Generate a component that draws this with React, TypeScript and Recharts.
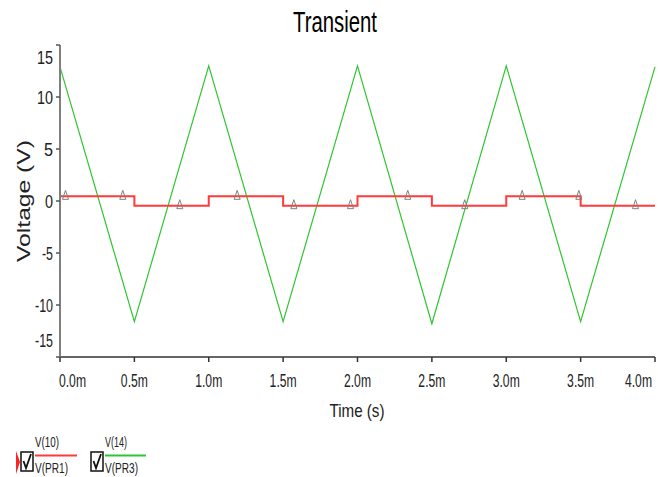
import React from 'react';
import { ComposedChart, Line, Scatter, XAxis, YAxis, Label, Legend } from 'recharts';

const font = '"Liberation Sans", Arial, sans-serif';

const timeTicks = [0, 0.5, 1.0, 1.5, 2.0, 2.5, 3.0, 3.5, 4.0];
const voltTicks = [-15, -10, -5, 0, 5, 10, 15];

// V(14): triangle wave, corner points (ms, V)
const v14Times = [0, 0.5, 1.0, 1.5, 2.0, 2.5, 3.0, 3.5, 4.0];
const v14Values = [12.9, -11.6, 13.0, -11.6, 13.0, -11.8, 13.0, -11.6, 12.9];

// V(10): square wave, each value held until the next time
const v10Times = [0, 0, 0.5, 1.0, 1.5, 2.0, 2.5, 3.0, 3.5, 4.0];
const v10Values = [-0.45, 0.45, -0.45, 0.45, -0.45, 0.45, -0.45, 0.45, -0.45, -0.45];

// trace markers sitting on V(10)
const markerTimes = [0.037, 0.422, 0.805, 1.191, 1.572, 1.953, 2.338, 2.721, 3.107, 3.488, 3.869];
const markerValues = [0.45, 0.45, -0.45, 0.45, -0.45, -0.45, 0.45, -0.45, 0.45, 0.45, -0.45];

const v14Data = v14Times.map((t, i) => ({ t, v: v14Values[i] }));
const v10Data = v10Times.map((t, i) => ({ t, v: v10Values[i] }));
const markerData = markerTimes.map((t, i) => ({ t, v: markerValues[i] }));

const yLabelWidth: Record<string, number> = {
  '15': 16, '10': 16, '5': 9, '0': 8, '-5': 11, '-10': 18, '-15': 18,
};

const XTick = (props: any) => {
  const { x, y, payload } = props;
  const v = payload.value;
  const anchor = v === 0 ? 'start' : v === 4 ? 'end' : 'middle';
  const dx = v === 0 ? -1 : v === 4 ? -3 : 0;
  return (
    <text transform={`translate(${x + dx},${y + 23}) scale(0.675,1)`} textAnchor={anchor}
      fontSize={18} fontFamily={font} fill="#222">
      {v.toFixed(1) + 'm'}
    </text>
  );
};

const YTick = (props: any) => {
  const { x, y, payload } = props;
  const v = payload.value;
  const shift = v === 15 ? 12 : v === -15 ? -17 : 0;
  const s = String(v);
  return (
    <text x={x - 1} y={y + 6.5 + shift} textAnchor="end" fontSize={18} fontFamily={font}
      fill="#222" textLength={yLabelWidth[s]} lengthAdjust="spacingAndGlyphs">
      {s}
    </text>
  );
};

const Marker = (props: any) => {
  const { cx, cy } = props;
  return (
    <polygon points={`${cx},${cy - 6} ${cx - 3},${cy + 3} ${cx + 3},${cy + 3}`}
      fill="none" stroke="#808080" strokeWidth={1} />
  );
};

const Check = ({ x }: { x: number }) => (
  <g>
    <rect x={x} y={452} width={12} height={19} fill="#fff" stroke="#111" strokeWidth={1.5} />
    <polyline points={`${x + 2.5},${461} ${x + 5},${468} ${x + 10},${454}`} fill="none" stroke="#111" strokeWidth={1.8} />
  </g>
);

const renderLegend = () => (
  <svg width={200} height={477} style={{ position: 'absolute', left: 0, top: -430 }}>
    <polygon points="16,451 20,462 16,474" fill="#ff2020" />
    <Check x={21} />
    <text x={35} y={447} fontSize={14} fontFamily={font} fill="#222" textLength={24} lengthAdjust="spacingAndGlyphs">V(10)</text>
    <line x1={35} x2={77} y1={455.5} y2={455.5} stroke="#ff3b3b" strokeWidth={2} />
    <text x={35} y={473} fontSize={14} fontFamily={font} fill="#222" textLength={33} lengthAdjust="spacingAndGlyphs">V(PR1)</text>
    <Check x={91} />
    <text x={105} y={447} fontSize={14} fontFamily={font} fill="#222" textLength={22} lengthAdjust="spacingAndGlyphs">V(14)</text>
    <line x1={105} x2={146} y1={455.5} y2={455.5} stroke="#2fc52f" strokeWidth={2} />
    <text x={105} y={473} fontSize={14} fontFamily={font} fill="#222" textLength={33} lengthAdjust="spacingAndGlyphs">V(PR3)</text>
  </svg>
);

const App = () => {
  return (
    <div style={{ position: 'absolute', left: 0, top: 0, width: 658, height: 477, background: '#fff' }}>
      <svg width={658} height={45} style={{ position: 'absolute', left: 0, top: 0 }}>
        <text x={335} y={32} textAnchor="middle" fontSize={30} fontFamily={font} fill="#000"
          textLength={84} lengthAdjust="spacingAndGlyphs">Transient</text>
      </svg>
      <ComposedChart width={658} height={477} margin={{ top: 45, right: 3, bottom: 0, left: 0 }}>
        <XAxis dataKey="t" type="number" domain={[0, 4]} ticks={timeTicks} interval={0}
          height={120} tickSize={5} tick={<XTick />}
          axisLine={{ stroke: '#333', strokeWidth: 1.5 }} tickLine={{ stroke: '#333', strokeWidth: 1.5 }}>
          <Label content={() => (
            <text x={357} y={417} textAnchor="middle" fontSize={19} fontFamily={font} fill="#222"
              textLength={55} lengthAdjust="spacingAndGlyphs">Time (s)</text>
          )} />
        </XAxis>
        <YAxis type="number" domain={[-15, 15]} ticks={voltTicks} interval={0} width={60}
          tickSize={4} tick={<YTick />}
          axisLine={{ stroke: '#808080', strokeWidth: 2 }} tickLine={{ stroke: '#555', strokeWidth: 1.5 }}>
          <Label content={() => (
            <text transform="translate(30,201) rotate(-90)" textAnchor="middle" fontSize={18}
              fontFamily={font} fill="#222" textLength={122} lengthAdjust="spacingAndGlyphs">Voltage (V)</text>
          )} />
        </YAxis>
        <Legend layout="horizontal" verticalAlign="middle" content={renderLegend}
          wrapperStyle={{ left: 0, top: 430, width: 200, height: 47 }} />
        <Line data={v14Data} dataKey="v" type="linear" stroke="#2fc52f" strokeWidth={1.2}
          dot={false} isAnimationActive={false} legendType="none" />
        <Line data={v10Data} dataKey="v" type="stepAfter" stroke="#ff3b3b" strokeWidth={2}
          dot={false} isAnimationActive={false} legendType="none" />
        <Scatter data={markerData} dataKey="v" shape={<Marker />} isAnimationActive={false} legendType="none" />
      </ComposedChart>
    </div>
  );
};

export default App;
